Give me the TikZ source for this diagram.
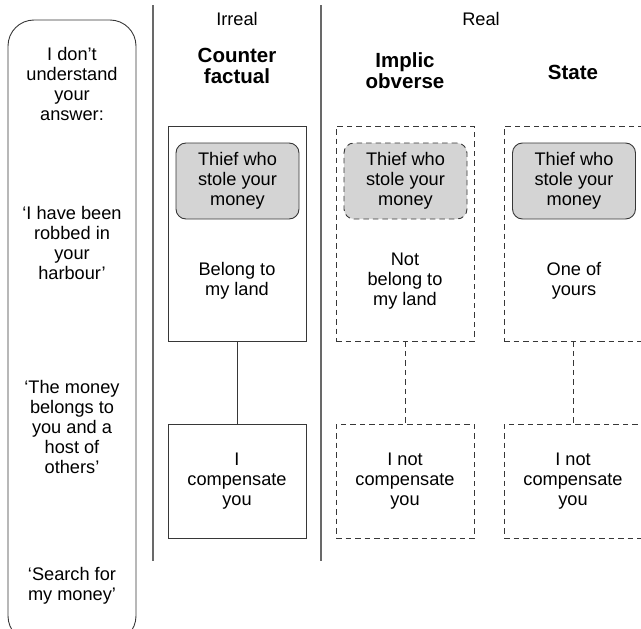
\documentclass[tikz,border=0pt]{standalone}
\usepackage{fontspec}
\setmainfont{Liberation Sans}
\usepackage{xcolor}
\definecolor{LineGray} {RGB}{55,  55,  55}
\definecolor{RuleGray} {RGB}{105, 105, 105}
\definecolor{BoxGray}  {RGB}{212, 212, 212}
\usetikzlibrary{positioning}

\begin{document}
\begin{tikzpicture}[
  x=1pt, y=-1pt,
  font=\fontsize{18.2}{19.8}\selectfont,
  frame/.style={
    draw=LineGray, line width=0.9pt,
    minimum width=138pt,
    align=center, inner sep=0pt
  },
  dframe/.style={
    frame,
    dash pattern=on 5.5pt off 4pt
  },
  thief/.style={
    draw=LineGray, fill=BoxGray,
    rounded corners=10pt, line width=0.9pt,
    minimum width=123pt,
    minimum height=76pt,
    align=center, inner sep=0pt
  },
  heading/.style={
    font=\fontsize{20.5}{21}\selectfont\bfseries,
    align=center
  },
  label/.style={align=center},
  divider/.style={draw=RuleGray, line width=1.6pt},
  link/.style={draw=LineGray, line width=0.9pt},
  dlink/.style={link, dash pattern=on 5.5pt off 4pt}
]
\useasboundingbox (0,0) rectangle (641,629);

% utterances
\draw[draw=LineGray, line width=0.9pt, rounded corners=26pt]
  (8,20) rectangle (136,642);
\node[label] (ask) at (72,84)
  {I don’t\\understand\\your\\answer:};
\node[label] (robbed) at (72,243)
  {‘I have been\\robbed in\\your\\harbour’};
\node[label] (host) at (72,427)
  {‘The money\\belongs to\\you and a\\host of\\others’};
\node[label] (search) at (72,586)
  {‘Search for\\my money’};

\draw[divider] (153,5) -- (153,561);
\draw[divider] (321,5) -- (321,561);

\node (irreal) at (237,19) {Irreal};
\node (real) at (481,19) {Real};

\node[heading] (cfhead) at (237,66) {Counter\\factual};
\node[heading] (iohead) at (405,71) {Implic\\obverse};
\node[heading] (sthead) at (573,72) {State};

% counter factual
\node[frame, minimum height=215pt] (cfbox) at (237,233.5) {};
\node[thief] (cfthief) at (237.5,181) {Thief who\\stole your\\money};
\node[label] (cftext) at (237,281) {Belong to\\my land};
\node[frame, minimum height=114pt] (cfres) at (237,481)
  {I\\compensate\\you};
\draw[link] (cfbox.south) -- (cfres.north);

% implic obverse
\node[dframe, minimum height=215pt] (iobox) at (405,233.5) {};
\node[thief, dash pattern=on 5.5pt off 4pt] (iothief) at (405.5,181)
  {Thief who\\stole your\\money};
\node[label] (iotext) at (405,281) {Not\\belong to\\my land};
\node[dframe, minimum height=114pt] (iores) at (405,481)
  {I not\\compensate\\you};
\draw[dlink] (iobox.south) -- (iores.north);

% state
\node[dframe, minimum height=215pt] (stbox) at (573,233.5) {};
\node[thief] (stthief) at (574,181) {Thief who\\stole your\\money};
\node[label] (sttext) at (574,281) {One of\\yours};
\node[dframe, minimum height=114pt] (stres) at (573,481)
  {I not\\compensate\\you};
\draw[dlink] (stbox.south) -- (stres.north);
\end{tikzpicture}
\end{document}
